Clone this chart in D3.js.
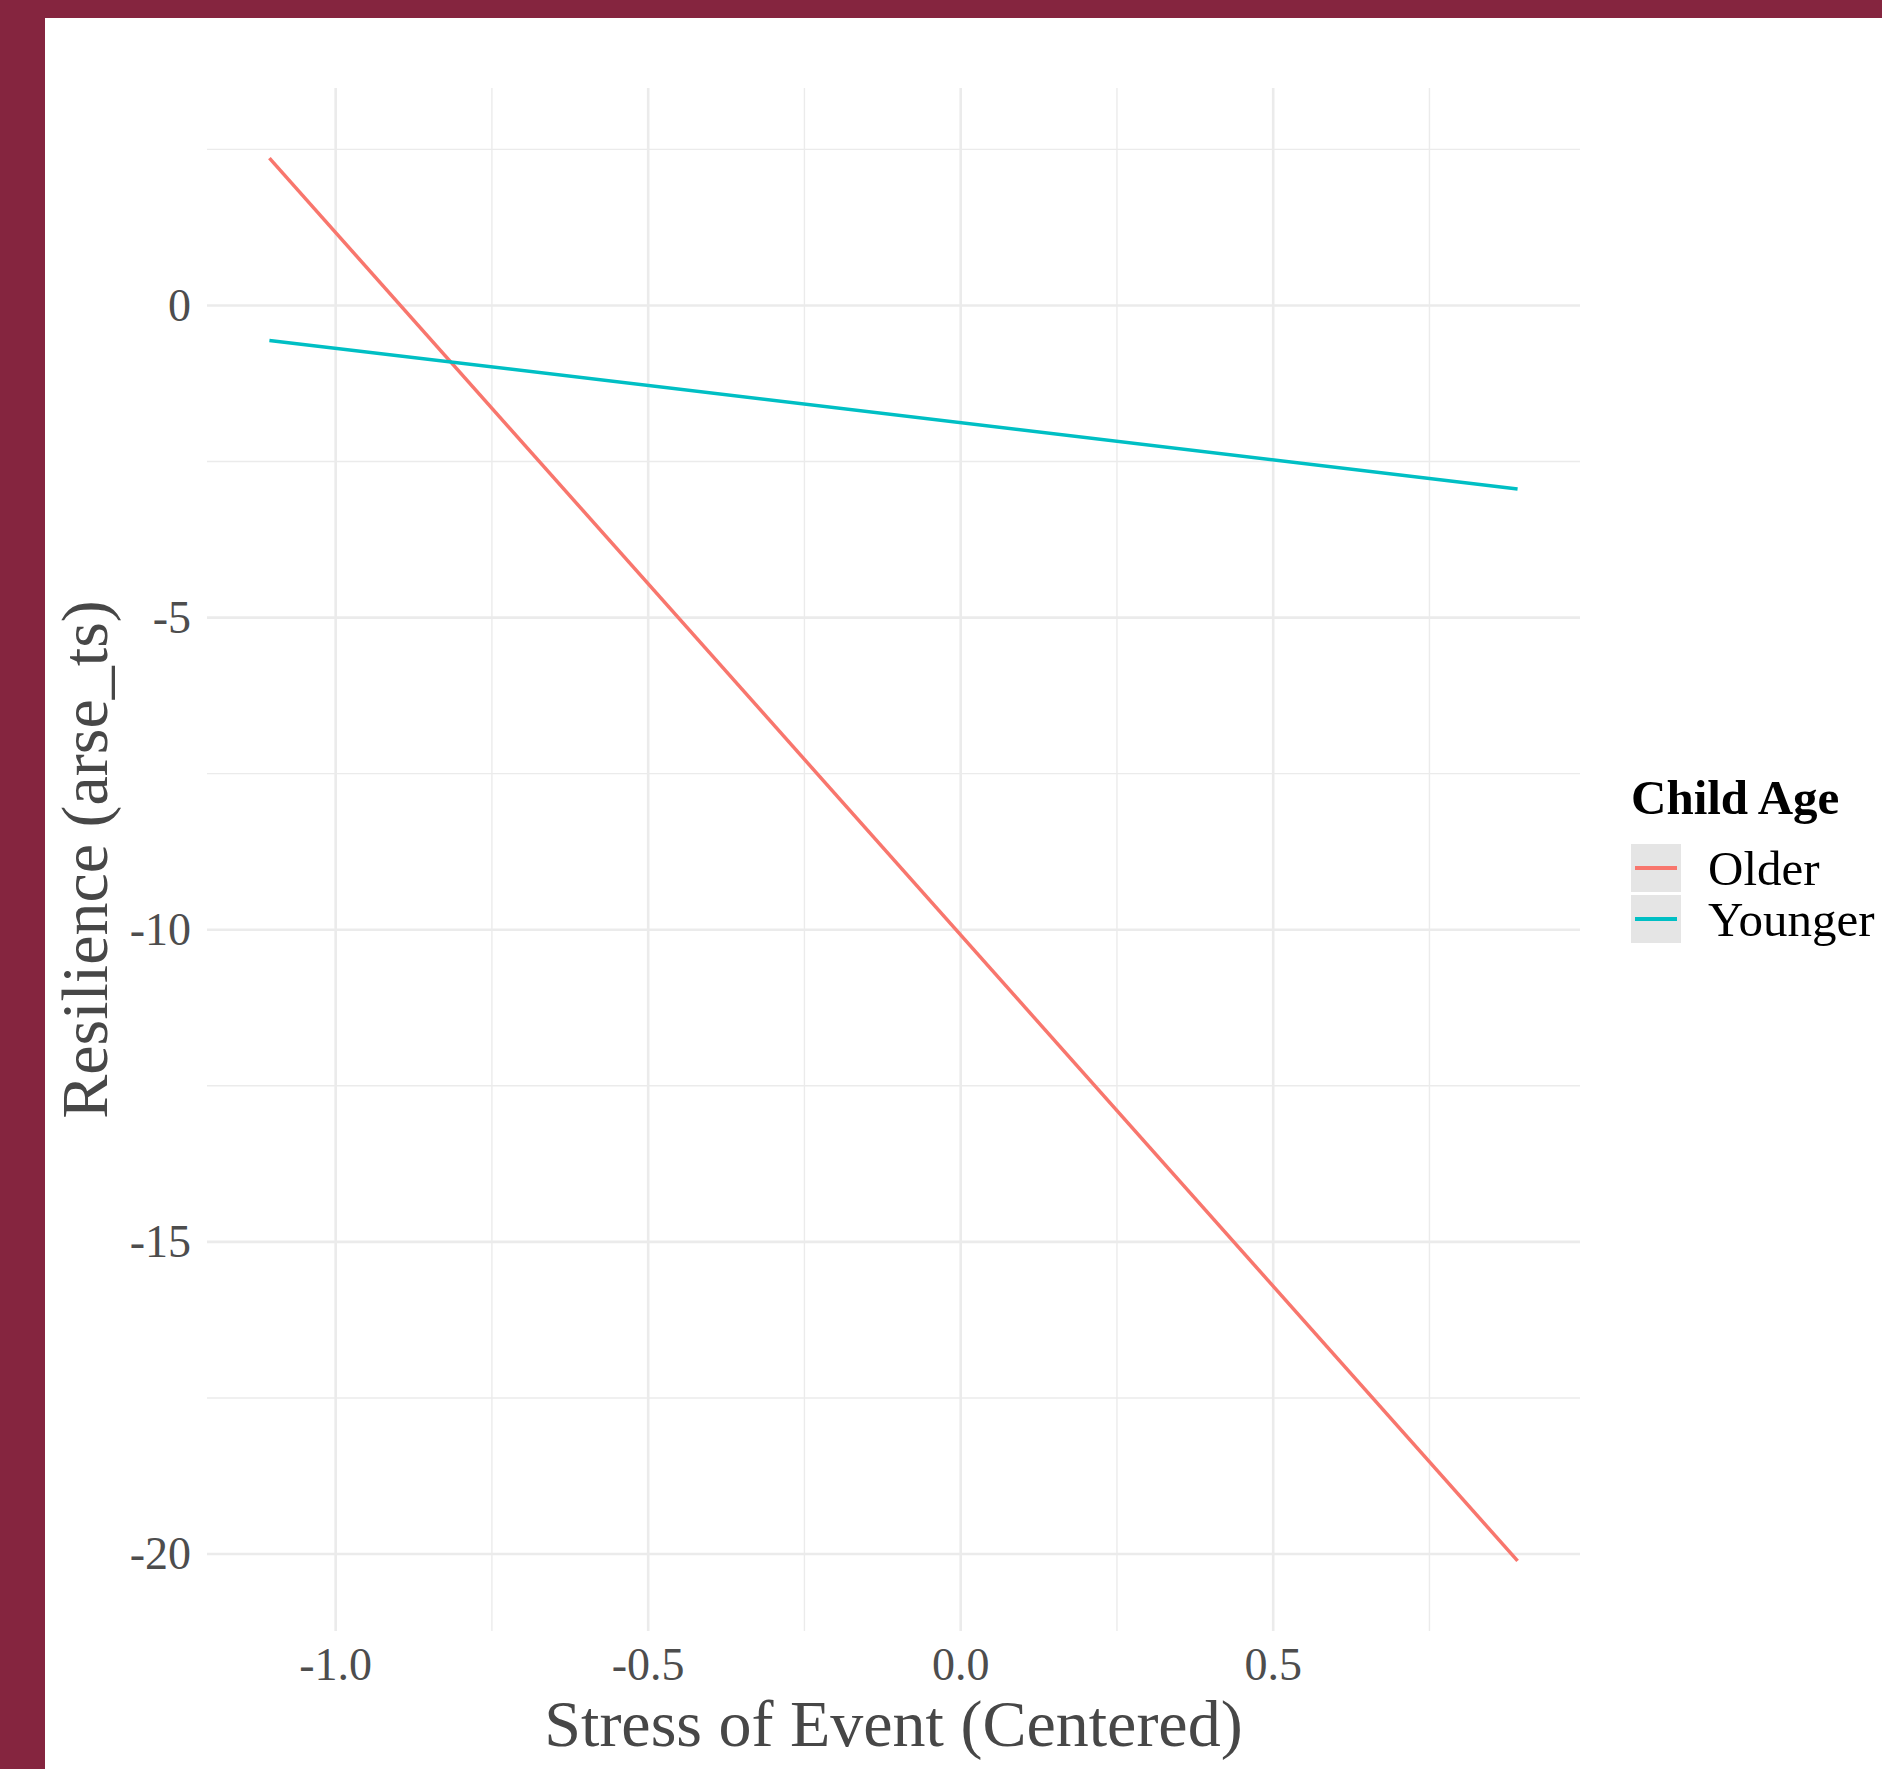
<!DOCTYPE html>
<html>
<head>
<meta charset="utf-8">
<script src="https://cdn.jsdelivr.net/npm/d3@7"></script>
<style>
  html, body { margin: 0; padding: 0; background: #ffffff; }
  svg { display: block; }
</style>
</head>
<body>
<svg id="chart" width="1882" height="1769"></svg>
<script>
// predicted resilience at the ends of the observed stress range
const stressX = [-1.106, 0.891];
const olderY = [2.36, -20.11];
const youngerY = [-0.56, -2.94];
const groups = ["Older", "Younger"];
const groupColors = ["#F8766D", "#00BFC4"];
const xTicks = [-1.0, -0.5, 0.0, 0.5];
const yTicks = [0, -5, -10, -15, -20];
const xTitle = "Stress of Event (Centered)";
const yTitle = "Resilience (arse_ts)";
const legendTitle = "Child Age";

const svg = d3.select('#chart');
const W = 1882, H = 1769;
const font = "'Liberation Serif', 'Times New Roman', serif";

// slide frame
svg.append('rect').attr('width', W).attr('height', H).attr('fill', '#85253F');
svg.append('rect').attr('x', 45).attr('y', 18).attr('width', W - 45).attr('height', H - 18).attr('fill', '#ffffff');

const panel = { left: 207, right: 1580, top: 88, bottom: 1631 };

// ggplot style 5% expansion
function expand(ext) {
	let pad = (ext[1] - ext[0]) * 0.05;
	return [ext[0] - pad, ext[1] + pad];
}

let x = d3.scaleLinear()
	.domain(expand(d3.extent(stressX)))
	.range([panel.left, panel.right]);

let y = d3.scaleLinear()
	.domain(expand(d3.extent(olderY.concat(youngerY))))
	.range([panel.bottom, panel.top]);

function minorOf(ticks, domain) {
	let step = ticks[1] - ticks[0];
	let out = [];
	for (let i = -1; i < ticks.length; i++) {
		let m = ticks[0] + step * (i + 0.5);
		if (m >= Math.min(domain[0], domain[1]) && m <= Math.max(domain[0], domain[1])) out.push(m);
	}
	return out;
}

// hyphen instead of the unicode minus d3 uses
let fmtX = d => d3.format('.1f')(d).replace('\u2212', '-');

let grid = svg.append('g').attr('class', 'grid');

// minor grid
grid.selectAll('.xminor')
	.data(minorOf(xTicks, x.domain()))
	.enter().append('line')
	.attr('x1', d => x(d)).attr('x2', d => x(d))
	.attr('y1', panel.top).attr('y2', panel.bottom)
	.attr('stroke', '#ebebeb').attr('stroke-width', 1.4);

grid.selectAll('.yminor')
	.data(minorOf(yTicks.slice().reverse(), y.domain()))
	.enter().append('line')
	.attr('x1', panel.left).attr('x2', panel.right)
	.attr('y1', d => y(d)).attr('y2', d => y(d))
	.attr('stroke', '#ebebeb').attr('stroke-width', 1.4);

// major grid
grid.selectAll('.xmajor')
	.data(xTicks)
	.enter().append('line')
	.attr('x1', d => x(d)).attr('x2', d => x(d))
	.attr('y1', panel.top).attr('y2', panel.bottom)
	.attr('stroke', '#ebebeb').attr('stroke-width', 2.6);

grid.selectAll('.ymajor')
	.data(yTicks)
	.enter().append('line')
	.attr('x1', panel.left).attr('x2', panel.right)
	.attr('y1', d => y(d)).attr('y2', d => y(d))
	.attr('stroke', '#ebebeb').attr('stroke-width', 2.6);

// tick labels
svg.append('g').selectAll('text')
	.data(xTicks)
	.enter().append('text')
	.attr('x', d => x(d))
	.attr('y', 1680)
	.attr('text-anchor', 'middle')
	.style('font-family', font)
	.style('font-size', '46px')
	.style('fill', '#4d4d4d')
	.text(fmtX);

svg.append('g').selectAll('text')
	.data(yTicks)
	.enter().append('text')
	.attr('x', 191)
	.attr('y', d => y(d) + 15.5)
	.attr('text-anchor', 'end')
	.style('font-family', font)
	.style('font-size', '46px')
	.style('fill', '#4d4d4d')
	.text(d => d);

// lines
let line = d3.line()
	.x(d => x(d[0]))
	.y(d => y(d[1]));

let series = [
	{ name: groups[0], pts: d3.zip(stressX, olderY) },
	{ name: groups[1], pts: d3.zip(stressX, youngerY) }
];

svg.append('g').selectAll('path')
	.data(series)
	.enter().append('path')
	.attr('d', d => line(d.pts))
	.attr('fill', 'none')
	.attr('stroke', (d, i) => groupColors[i])
	.attr('stroke-width', 3.5);

// axis titles
svg.append('text')
	.attr('x', (panel.left + panel.right) / 2)
	.attr('y', 1746)
	.attr('text-anchor', 'middle')
	.style('font-family', font)
	.style('font-size', '66px')
	.style('fill', '#474747')
	.text(xTitle);

svg.append('text')
	.attr('transform', `translate(107,${(panel.top + panel.bottom) / 2}) rotate(-90)`)
	.attr('text-anchor', 'middle')
	.style('font-family', font)
	.style('font-size', '66px')
	.style('fill', '#474747')
	.text(yTitle);

// legend
let legend = svg.append('g').attr('transform', 'translate(1631,0)');

legend.append('text')
	.attr('x', 0)
	.attr('y', 814)
	.style('font-family', font)
	.style('font-size', '49px')
	.style('font-weight', 'bold')
	.style('fill', '#000')
	.text(legendTitle);

let keys = legend.selectAll('.key')
	.data(groups)
	.enter().append('g')
	.attr('class', 'key')
	.attr('transform', (d, i) => `translate(0,${844 + i * 51})`);

keys.append('rect')
	.attr('width', 50).attr('height', 48)
	.attr('fill', '#e5e5e5');

keys.append('line')
	.attr('x1', 4).attr('x2', 46)
	.attr('y1', 24).attr('y2', 24)
	.attr('stroke', (d, i) => groupColors[i])
	.attr('stroke-width', 3.8);

keys.append('text')
	.attr('x', 77)
	.attr('y', 41)
	.style('font-family', font)
	.style('font-size', '49px')
	.style('fill', '#000')
	.text(d => d);
</script>
</body>
</html>
